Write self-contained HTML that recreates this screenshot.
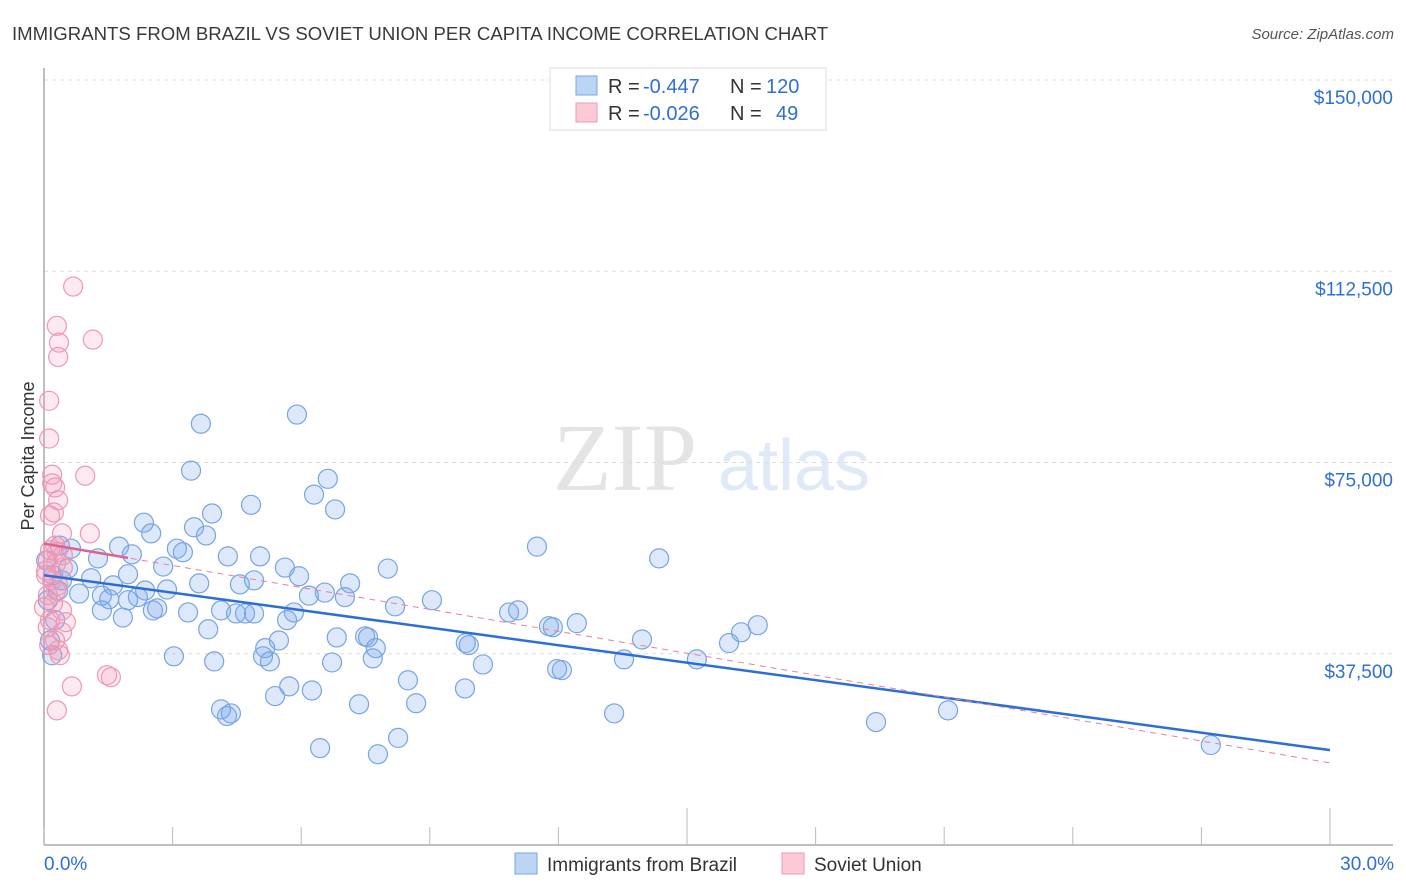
<!DOCTYPE html>
<html><head><meta charset="utf-8"><style>
body{margin:0;background:#fff;font-family:"Liberation Sans",sans-serif}
svg{display:block}
</style></head><body>
<svg id="chart" width="1406" height="892" viewBox="0 0 1406 892">
<text x="12" y="40" font-size="18.6" fill="#3a3a3a">IMMIGRANTS FROM BRAZIL VS SOVIET UNION PER CAPITA INCOME CORRELATION CHART</text>
<text x="1394" y="39" font-size="15" fill="#555" font-style="italic" text-anchor="end">Source: ZipAtlas.com</text>
<g>
<text x="553" y="490" font-size="96" fill="#e4e4e4" font-family="Liberation Serif,serif">ZIP</text>
<text x="718" y="490" font-size="72" fill="#dfe9f7">atlas</text>
</g>
<g id="grid"></g>
<g id="axes"></g>
<g id="pts"></g>
<g id="trends"></g>
<text x="34" y="456" font-size="18" fill="#333" transform="rotate(-90 34 456)" text-anchor="middle">Per Capita Income</text>
<g>
<rect x="550" y="68" width="276" height="62" fill="#fff" stroke="#ddd"/>
<rect x="576" y="76" width="21" height="19" fill="#bcd5f5" stroke="#7aa6e6"/>
<rect x="576" y="103" width="21" height="19" fill="#fcc9d7" stroke="#ee9ab4"/>
<text x="608" y="93" font-size="20" fill="#333">R =</text>
<text x="643" y="93" font-size="20" fill="#2f6fd6">-0.447</text>
<text x="730" y="93" font-size="20" fill="#333">N =</text>
<text x="766" y="93" font-size="20" fill="#2f6fd6">120</text>
<text x="608" y="120" font-size="20" fill="#333">R =</text>
<text x="643" y="120" font-size="20" fill="#2f6fd6">-0.026</text>
<text x="730" y="120" font-size="20" fill="#333">N =</text>
<text x="776" y="120" font-size="20" fill="#2f6fd6">49</text>
</g>
<g>
<rect x="515" y="853" width="22" height="21" fill="#bcd5f5" stroke="#7aa6e6"/>
<text x="547" y="871" font-size="19" fill="#333">Immigrants from Brazil</text>
<rect x="782" y="853" width="22" height="21" fill="#fcc9d7" stroke="#ee9ab4"/>
<text x="814" y="871" font-size="19" fill="#333">Soviet Union</text>
</g>
</svg>
<script>
const yTicks=[37500,75000,112500,150000];
const yTickLabels=["$37,500","$75,000","$112,500","$150,000"];
const xTicks=[0,3,6,9,12,15,18,21,24,27,30];
const xLabels=["0.0%","30.0%"];
const brazilX=[3.66,5.90,3.43,6.62,6.30,4.83,6.79,3.92,2.33,3.50,2.50,3.78,11.50,14.35,1.75,0.63,3.10,3.24,2.05,1.26,5.04,4.29,8.02,2.78,5.62,5.95,0.21,0.42,0.56,1.10,1.61,1.96,2.36,2.87,3.62,4.57,4.90,7.14,6.55,6.18,7.02,0.82,1.35,1.52,1.96,2.19,2.64,2.54,3.36,4.13,4.48,4.69,4.90,5.83,8.19,9.05,10.85,11.06,11.78,11.87,12.43,1.84,1.35,3.83,5.67,5.48,5.16,6.83,7.49,7.56,7.74,9.84,9.91,13.95,16.26,15.98,16.65,3.03,3.97,5.27,5.11,6.72,7.67,10.24,11.97,12.08,13.53,15.23,8.49,5.72,5.39,6.25,9.82,4.13,4.27,4.36,7.35,8.68,13.30,19.41,21.09,6.44,7.79,8.26,27.22,0.19,0.14,0.26,0.09,0.33,0.05,0.37];
const brazilY=[82.6,84.4,73.4,71.8,68.7,66.7,65.8,65.0,63.2,62.3,61.1,60.7,58.5,56.2,58.5,58.1,58.1,57.4,57.0,56.2,56.6,56.6,54.2,54.6,54.4,52.7,52.9,51.9,54.2,52.3,50.9,53.1,49.9,50.1,51.3,51.1,51.9,51.3,49.5,48.9,48.6,49.3,48.9,48.2,48.0,48.6,46.4,46.0,45.6,46.0,45.4,45.4,45.4,45.6,46.8,48.0,45.6,46.0,42.9,42.7,43.5,44.6,46.0,42.3,44.1,40.1,38.6,40.7,40.9,40.7,38.6,39.6,39.2,40.3,41.7,39.6,43.1,37.0,36.0,36.0,37.0,35.8,36.6,35.4,34.5,34.3,36.4,36.4,32.3,31.1,29.2,30.3,30.7,26.6,25.3,25.8,27.6,27.8,25.8,24.1,26.4,19.0,17.8,21.0,19.6,37.2,40.1,44.1,48.0,49.9,55.8,58.7];
const sovietX=[0.68,0.30,0.35,0.33,1.14,0.12,0.12,0.19,0.96,0.19,0.26,0.33,0.14,0.23,1.07,0.42,0.26,0.14,0.30,0.44,0.09,0.28,0.44,0.05,0.19,0.33,0.09,0.21,0.00,0.42,0.51,0.09,0.42,0.26,0.12,0.33,0.37,1.47,1.56,0.65,0.30,0.14,0.05,0.28];
const sovietY=[109.5,101.8,98.5,95.7,99.1,87.1,79.7,72.6,72.4,70.9,70.1,67.6,64.6,65.2,61.1,61.1,58.7,57.8,57.4,56.8,55.8,55.2,54.4,52.9,51.9,50.9,49.0,47.4,46.6,46.0,43.7,42.7,41.7,40.1,39.2,38.2,37.2,33.3,32.9,31.1,26.4,44.1,53.8,49.9];
const brazilTrend=[52.9,18.6];
const sovietTrend=[59.1,16.1];
const sovietSolidEnd=1.96;

const NS="http://www.w3.org/2000/svg";
const X=v=>44+v/30*1286;
const Y=v=>845-v/150000*765;
function mk(tag,attrs,parent){const e=document.createElementNS(NS,tag);for(const k in attrs)e.setAttribute(k,attrs[k]);document.getElementById(parent).appendChild(e);return e;}
yTicks.forEach((t,i)=>{
 const l=mk('line',{x1:44,x2:1393,y1:Y(t),y2:Y(t),stroke:'#ddd','stroke-dasharray':'4,4'},'grid');
 
 
 const tx=mk('text',{x:1393,y:Y(t)+24,'font-size':19,fill:'#2f6fd6','text-anchor':'end'},'grid');
 tx.textContent=yTickLabels[i];
 
 
});
let ax=mk('line',{x1:44,x2:44,y1:68,y2:845,stroke:'#aaa','stroke-width':1.5},'axes');


ax=mk('line',{x1:44,x2:1393,y1:845,y2:845,stroke:'#aaa','stroke-width':1.5},'axes');


xTicks.forEach((t,i)=>{
 const major=(t===15||t===30);
 const l=mk('line',{x1:X(t),x2:X(t),y1:major?808:827,y2:845,stroke:'#bbb'},'axes');
 
 
});
let lx=mk('text',{x:44,y:870,'font-size':19,fill:'#2f6fd6'},'axes');lx.textContent=xLabels[0];


lx=mk('text',{x:1394,y:870,'font-size':19,fill:'#2f6fd6','text-anchor':'end'},'axes');lx.textContent=xLabels[1];


brazilX.forEach((x,i)=>{
 const c=mk('circle',{cx:X(x),cy:Y(brazilY[i]*1000),r:9.5,fill:'rgba(120,168,235,0.25)',stroke:'#78a4e4','stroke-width':1.2},'pts');
 
 
});
sovietX.forEach((x,i)=>{
 const c=mk('circle',{cx:X(x),cy:Y(sovietY[i]*1000),r:9.5,fill:'rgba(245,150,180,0.2)',stroke:'#ef98b3','stroke-width':1.2},'pts');
 
 
});
let t=mk('line',{x1:X(0),y1:Y(brazilTrend[0]*1000),x2:X(30),y2:Y(brazilTrend[1]*1000),stroke:'#2b6fd6','stroke-width':2.5},'trends');


t=mk('line',{x1:X(0),y1:Y(sovietTrend[0]*1000),x2:X(30),y2:Y(sovietTrend[1]*1000),stroke:'#e87fa0','stroke-width':1,'stroke-dasharray':'6,5'},'trends');


const sEnd=sovietTrend[0]+(sovietTrend[1]-sovietTrend[0])*sovietSolidEnd/30;
t=mk('line',{x1:X(0),y1:Y(sovietTrend[0]*1000),x2:X(sovietSolidEnd),y2:Y(sEnd*1000),stroke:'#e0628a','stroke-width':2.5},'trends');


</script>
</body></html>
